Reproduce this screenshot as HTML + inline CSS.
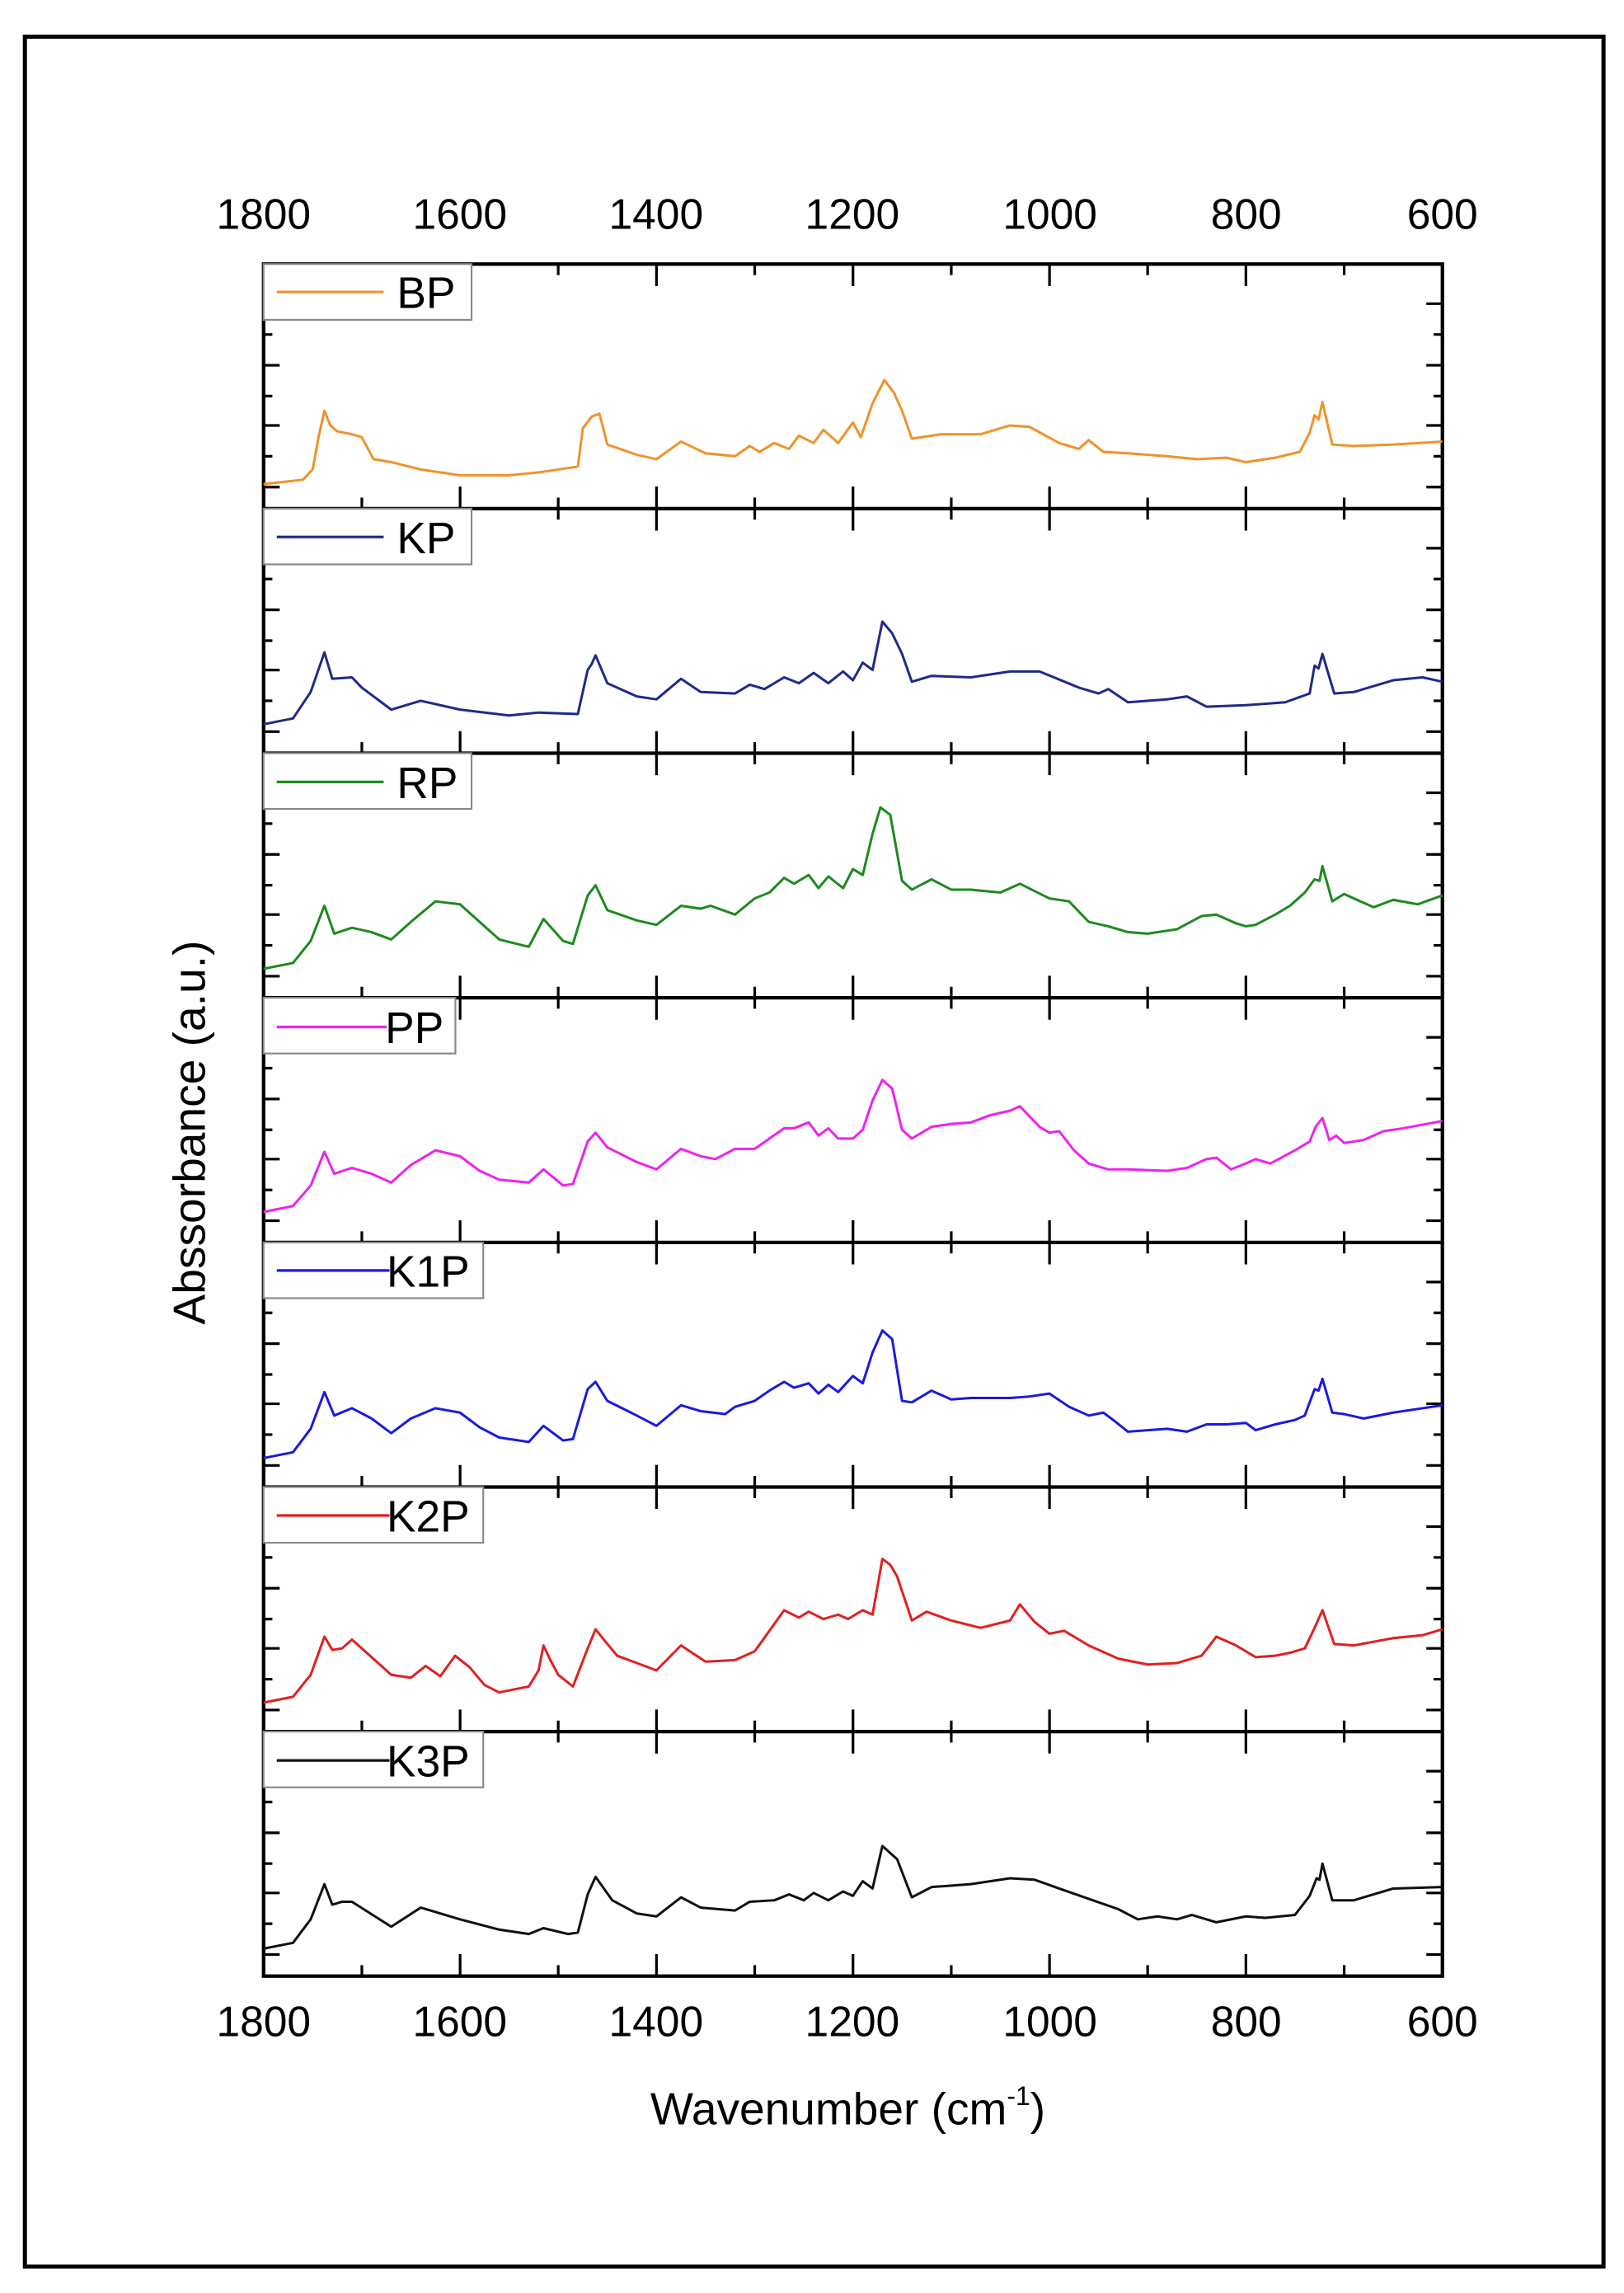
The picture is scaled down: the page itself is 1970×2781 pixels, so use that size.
<!DOCTYPE html>
<html><head><meta charset="utf-8"><style>html,body{margin:0;padding:0;background:#fff}svg{display:block}</style></head>
<body>
<svg width="1970" height="2781" viewBox="0 0 1109 1563" preserveAspectRatio="none" xmlns="http://www.w3.org/2000/svg" font-family="Liberation Sans, Arial, sans-serif">
<rect x="0" y="0" width="1109" height="1563" fill="#fff"/>
<rect x="17" y="25" width="1078" height="1520" fill="none" stroke="#000" stroke-width="2.8"/>

<defs>
<g id="ticks">
  <path d="M180,0v15 M314.2,0v15 M448.3,0v15 M582.5,0v15 M716.7,0v15 M850.8,0v15 M985,0v15
           M247.1,0v7.5 M381.2,0v7.5 M515.4,0v7.5 M649.6,0v7.5 M783.7,0v7.5 M917.9,0v7.5
           M180,166.7v-15 M314.2,166.7v-15 M448.3,166.7v-15 M582.5,166.7v-15 M716.7,166.7v-15 M850.8,166.7v-15 M985,166.7v-15
           M247.1,166.7v-7.5 M381.2,166.7v-7.5 M515.4,166.7v-7.5 M649.6,166.7v-7.5 M783.7,166.7v-7.5 M917.9,166.7v-7.5
           M180,27h11 M180,69h11 M180,110h11 M180,152h11 M180,48h6 M180,90h6 M180,131h6
           M985,27h-11 M985,69h-11 M985,110h-11 M985,152h-11 M985,48h-6 M985,90h-6 M985,131h-6"
        stroke="#000" stroke-width="1.8" fill="none"/>
</g>
</defs>

<use href="#ticks" transform="translate(0,180)"/>
<use href="#ticks" transform="translate(0,346.7)"/>
<use href="#ticks" transform="translate(0,513.4)"/>
<use href="#ticks" transform="translate(0,680.1)"/>
<use href="#ticks" transform="translate(0,846.9)"/>
<use href="#ticks" transform="translate(0,1013.6)"/>
<use href="#ticks" transform="translate(0,1180.3)"/>

<rect x="180" y="180" width="805" height="1167" fill="none" stroke="#000" stroke-width="2.4"/>
<path d="M180,346.7H985 M180,513.4H985 M180,680.1H985 M180,846.9H985 M180,1013.6H985 M180,1180.3H985" stroke="#000" stroke-width="2.4"/>

<g fill="none" stroke-linejoin="round">
<polyline vector-effect="non-scaling-stroke" stroke-width="3" stroke="#f0922b" transform="matrix(-0.6708 0 0 1 1387.4 180)" points="1800,150 1760,147 1750,140 1744,118 1738,100 1732,110 1725,114 1710,116 1700,118 1688,133 1670,135 1640,140 1600,144 1550,144 1520,142 1480,138 1475,112 1466,104 1458,102 1450,123 1420,130 1400,133 1375,121 1350,129 1320,131 1305,124 1295,128 1280,122 1265,126 1255,117 1240,122 1230,113 1215,122 1200,108 1192,118 1180,95 1168,79 1158,88 1150,100 1140,119 1110,116 1070,116 1040,110 1020,111 990,122 970,126 960,120 945,128 920,129 880,131 850,133 820,132 800,135 770,132 745,128 735,115 730,103 726,106 722,94 712,123 690,124 650,123 600,121"/>
<polyline vector-effect="non-scaling-stroke" stroke-width="3" stroke="#1f2a8a" transform="matrix(-0.6708 0 0 1 1387.4 346.7)" points="1800,147 1770,143 1752,125 1738,98 1730,116 1710,115 1700,122 1670,137 1640,131 1600,137 1550,141 1520,139 1480,140 1470,110 1466,106 1462,100 1450,119 1420,128 1400,130 1375,116 1355,125 1320,126 1305,120 1290,123 1270,115 1255,119 1240,112 1225,119 1210,111 1200,117 1190,105 1180,110 1170,77 1160,85 1150,99 1140,118 1120,114 1080,115 1040,111 1010,111 970,122 950,126 940,123 920,132 880,130 860,128 840,135 800,134 760,132 735,126 730,107 726,109 722,99 710,126 690,125 650,117 620,115 600,118"/>
<polyline vector-effect="non-scaling-stroke" stroke-width="3" stroke="#1e8a1e" transform="matrix(-0.6708 0 0 1 1387.4 513.4)" points="1800,147 1770,143 1752,128 1738,104 1728,123 1710,119 1690,122 1670,127 1650,115 1625,101 1600,103 1580,115 1560,127 1530,132 1515,113 1495,128 1485,130 1470,97 1462,90 1450,107 1420,114 1400,117 1375,104 1355,106 1345,104 1320,110 1300,99 1285,95 1270,85 1260,89 1245,83 1235,92 1225,84 1210,92 1200,79 1190,83 1180,55 1172,37 1162,42 1150,87 1140,93 1120,86 1100,93 1080,93 1050,95 1030,89 1000,99 980,101 960,115 940,118 920,122 900,123 870,120 845,111 830,110 810,116 800,118 790,117 770,110 755,104 740,95 730,86 725,87 722,77 712,101 700,96 690,99 670,105 650,100 625,103 600,97"/>
<polyline vector-effect="non-scaling-stroke" stroke-width="3" stroke="#ee22ee" transform="matrix(-0.6708 0 0 1 1387.4 680.1)" points="1800,146 1770,142 1752,128 1738,105 1728,120 1710,116 1690,120 1670,126 1650,114 1625,104 1600,108 1580,118 1560,124 1530,126 1515,117 1495,128 1485,127 1470,98 1462,92 1450,102 1420,112 1400,117 1375,103 1355,108 1340,110 1320,103 1300,103 1285,96 1270,89 1260,89 1245,85 1235,94 1225,89 1215,96 1200,96 1190,90 1180,70 1170,56 1160,62 1150,90 1140,96 1120,88 1100,86 1080,85 1060,80 1040,77 1030,74 1010,88 1000,92 990,91 975,104 960,113 940,117 920,117 880,118 860,116 840,110 830,109 815,117 800,113 790,110 775,113 750,104 735,98 729,88 722,82 715,97 708,94 700,99 680,97 660,91 640,89 600,84"/>
<polyline vector-effect="non-scaling-stroke" stroke-width="3" stroke="#1a1ae0" transform="matrix(-0.6708 0 0 1 1387.4 846.9)" points="1800,147 1770,143 1752,127 1738,102 1728,118 1710,113 1690,120 1670,130 1650,120 1625,113 1600,116 1580,126 1560,133 1530,136 1515,125 1495,135 1485,134 1470,100 1462,95 1450,108 1420,118 1400,125 1375,111 1355,115 1330,117 1320,112 1300,108 1285,101 1270,95 1260,99 1245,96 1235,103 1225,97 1215,102 1200,91 1190,96 1180,75 1170,60 1160,66 1150,108 1140,109 1120,101 1100,107 1080,106 1040,106 1020,105 1000,103 980,112 960,118 945,116 935,121 920,129 900,128 880,127 860,129 840,124 820,124 800,123 790,128 770,124 750,121 740,118 730,100 726,101 722,93 712,116 700,117 680,120 650,116 620,113 600,111"/>
<polyline vector-effect="non-scaling-stroke" stroke-width="3" stroke="#e02020" transform="matrix(-0.6708 0 0 1 1387.4 1013.6)" points="1800,147 1770,143 1752,128 1738,102 1730,111 1720,110 1710,104 1695,113 1670,128 1650,130 1635,122 1620,129 1605,115 1590,123 1575,135 1560,140 1530,136 1520,125 1515,108 1508,118 1500,128 1485,136 1470,110 1462,97 1450,107 1440,115 1400,125 1375,108 1350,119 1320,118 1300,112 1285,98 1270,84 1255,89 1245,85 1230,90 1215,87 1205,90 1190,84 1180,87 1170,49 1162,53 1155,61 1140,91 1125,85 1100,91 1070,96 1040,91 1030,80 1015,92 1000,100 985,98 960,108 930,117 900,121 870,120 845,115 830,102 810,108 790,116 770,115 755,113 740,110 730,96 722,84 710,107 690,108 650,103 620,101 600,97"/>
<polyline vector-effect="non-scaling-stroke" stroke-width="3" stroke="#111" transform="matrix(-0.6708 0 0 1 1387.4 1180.3)" points="1800,148 1770,144 1752,128 1738,104 1730,118 1720,116 1710,116 1670,133 1640,120 1600,128 1560,135 1530,138 1515,134 1490,138 1480,137 1470,111 1462,99 1445,115 1420,124 1400,126 1375,113 1355,120 1320,122 1305,116 1280,115 1265,111 1250,115 1240,110 1225,115 1210,109 1200,112 1190,102 1180,107 1170,78 1155,87 1140,113 1120,106 1080,104 1040,100 1015,101 990,107 960,114 930,121 910,128 890,126 870,128 855,125 830,130 800,126 780,127 750,125 735,112 728,100 725,101 722,90 712,115 690,115 650,107 600,106"/>
</g>

<g font-size="30">
<rect x="180" y="180" width="142" height="38" fill="#fff" stroke="#888" stroke-width="1.2"/>
<line x1="189" y1="199" x2="262" y2="199" stroke="#f0922b" stroke-width="1.8"/>
<text x="271" y="210" fill="#000">BP</text>

<rect x="180" y="346.7" width="142" height="38" fill="#fff" stroke="#888" stroke-width="1.2"/>
<line x1="189" y1="366" x2="262" y2="366" stroke="#1f2a8a" stroke-width="1.8"/>
<text x="271" y="377" fill="#000">KP</text>

<rect x="180" y="513.4" width="142" height="38" fill="#fff" stroke="#888" stroke-width="1.2"/>
<line x1="189" y1="533" x2="262" y2="533" stroke="#1e8a1e" stroke-width="1.8"/>
<text x="271" y="544" fill="#000">RP</text>

<rect x="180" y="680.1" width="131" height="38" fill="#fff" stroke="#888" stroke-width="1.2"/>
<line x1="189" y1="700" x2="264" y2="700" stroke="#ee22ee" stroke-width="1.8"/>
<text x="263" y="711" fill="#000">PP</text>

<rect x="180" y="846.9" width="150" height="38" fill="#fff" stroke="#888" stroke-width="1.2"/>
<line x1="189" y1="866" x2="266" y2="866" stroke="#1a1ae0" stroke-width="1.8"/>
<text x="264" y="877" fill="#000">K1P</text>

<rect x="180" y="1013.6" width="150" height="38" fill="#fff" stroke="#888" stroke-width="1.2"/>
<line x1="189" y1="1033" x2="266" y2="1033" stroke="#e02020" stroke-width="1.8"/>
<text x="264" y="1044" fill="#000">K2P</text>

<rect x="180" y="1180.3" width="150" height="38" fill="#fff" stroke="#888" stroke-width="1.2"/>
<line x1="189" y1="1200" x2="266" y2="1200" stroke="#111" stroke-width="1.8"/>
<text x="264" y="1211" fill="#000">K3P</text>
</g>

<g font-size="29" text-anchor="middle" fill="#000">
<text x="180" y="156">1800</text><text x="314" y="156">1600</text><text x="448" y="156">1400</text><text x="582" y="156">1200</text><text x="717" y="156">1000</text><text x="851" y="156">800</text><text x="985" y="156">600</text>
<text x="180" y="1388">1800</text><text x="314" y="1388">1600</text><text x="448" y="1388">1400</text><text x="582" y="1388">1200</text><text x="717" y="1388">1000</text><text x="851" y="1388">800</text><text x="985" y="1388">600</text>
</g>

<text x="579" y="1448" font-size="31" text-anchor="middle">Wavenumber (cm<tspan font-size="18" dy="-13">-1</tspan><tspan dy="13">)</tspan></text>
<text transform="translate(140,772) rotate(-90)" font-size="31" text-anchor="middle">Abssorbance (a.u.)</text>
</svg>
</body></html>
